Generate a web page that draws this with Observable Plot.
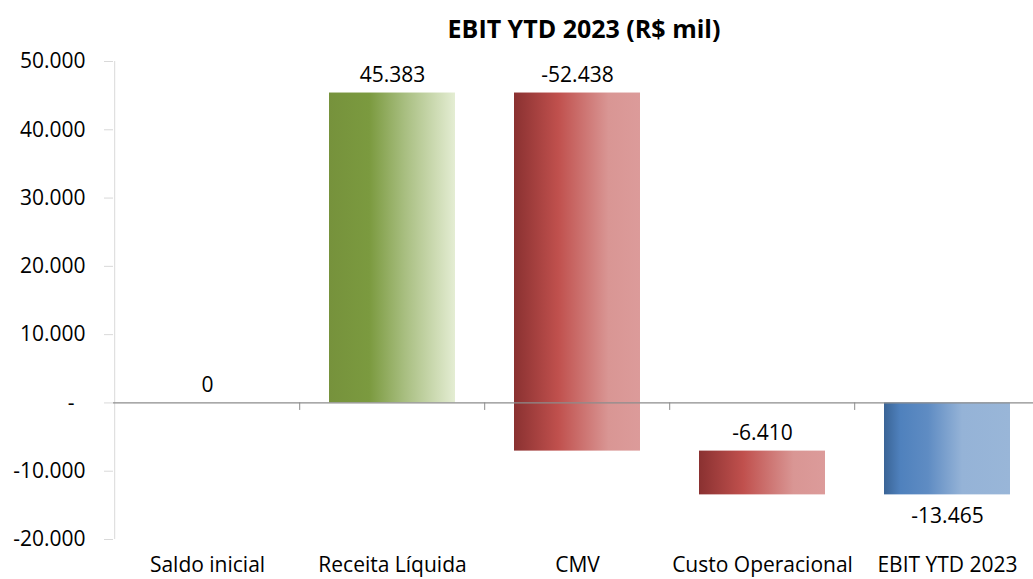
<!DOCTYPE html>
<html><head><meta charset="utf-8">
<script src="https://cdn.jsdelivr.net/npm/d3@7"></script>
<script src="https://cdn.jsdelivr.net/npm/@observablehq/plot@0.6"></script>
<style>
body{margin:0;background:#fff;font-family:"Open Sans",sans-serif;}
#wrap{width:1033px;height:579px;position:relative;overflow:hidden;background:#fff}
#title{position:absolute;top:5px;left:0;width:1168px;height:46px;text-align:center;font-weight:bold;font-size:25px;line-height:46px;color:#000}
#chart{position:absolute;top:50px;left:0}
</style></head><body>
<div id="wrap"><div id="title">EBIT YTD 2023 (R$ mil)</div><div id="chart"></div></div>
<script>
const categories = ["Saldo inicial", "Receita Líquida", "CMV", "Custo Operacional", "EBIT YTD 2023"];
const values = [0, 45383, -52438, -6410, -13465];
const kinds = ["start", "increase", "decrease", "decrease", "total"];
const yTicks = [-20000, -10000, 0, 10000, 20000, 30000, 40000, 50000];

const fmtNum = d3.formatLocale({decimal: ",", thousands: ".", grouping: [3], currency: ["R$", ""], minus: "-"}).format(",d");
const yFmt = d => d === 0 ? "-\u00a0\u00a0" : fmtNum(d);

let run = 0;
const rows = categories.map((c, i) => {
  let y1, y2;
  if (kinds[i] === "total") { y1 = 0; y2 = values[i]; }
  else { y1 = run; y2 = run + values[i]; run = y2; }
  const below = kinds[i] === "total" && values[i] < 0;
  return {cat: c, kind: kinds[i], value: values[i], y1, y2,
          ly: below ? Math.min(y1, y2) : Math.max(y1, y2), below};
});

const xRange = [113, 1041];
const step = (xRange[1] - xRange[0]) / categories.length;

const chart = Plot.plot({
  width: 1033,
  height: 529,
  marginLeft: 113,
  marginRight: 0,
  marginTop: 0,
  marginBottom: 40,
  style: {fontFamily: "'Open Sans', sans-serif", fontSize: "21px", color: "#000", background: "#fff", overflow: "visible"},
  x: {domain: categories, range: xRange, paddingInner: 0.32, paddingOuter: 0.16, label: null},
  y: {domain: [-20000, 50000], range: [489, 11], label: null},
  marks: [
    Plot.ruleX([categories[0]], {y1: -20000, y2: 50000, dx: -step / 2, stroke: "#d9d9d9"}),
    Plot.axisY(yTicks, {tickSize: 9, tickPadding: 19, tickFormat: yFmt, stroke: "#d9d9d9", fill: "#000", fontSize: 21, label: null}),
    Plot.barY(rows.filter(d => d.kind === "increase"), {x: "cat", y1: "y1", y2: "y2", fill: "url(#gGreen)"}),
    Plot.barY(rows.filter(d => d.kind === "decrease"), {x: "cat", y1: "y1", y2: "y2", fill: "url(#gRed)"}),
    Plot.barY(rows.filter(d => d.kind === "total"), {x: "cat", y1: "y1", y2: "y2", fill: "url(#gBlue)"}),
    Plot.ruleY([0], {stroke: "#8c8c8c", strokeWidth: 1.2}),
    Plot.ruleX(categories.slice(1), {y1: 0, y2: -1100, dx: -step / 2, stroke: "#8c8c8c"}),
    Plot.axisX({tickSize: 0, tickPadding: 18, fontSize: 21, fill: "#000", label: null}),
    Plot.text(rows.filter(d => !d.below), {x: "cat", y: "ly", text: d => fmtNum(d.value), dy: -18, fontSize: 21, fill: "#000"}),
    Plot.text(rows.filter(d => d.below), {x: "cat", y: "ly", text: d => fmtNum(d.value), dy: 21, fontSize: 21, fill: "#000"})
  ]
});

const ns = "http://www.w3.org/2000/svg";
const defs = document.createElementNS(ns, "defs");
function grad(id, stops) {
  const g = document.createElementNS(ns, "linearGradient");
  g.setAttribute("id", id);
  g.setAttribute("x1", "0"); g.setAttribute("x2", "1"); g.setAttribute("y1", "0"); g.setAttribute("y2", "0");
  stops.forEach(([o, c]) => {
    const s = document.createElementNS(ns, "stop");
    s.setAttribute("offset", o); s.setAttribute("stop-color", c);
    g.appendChild(s);
  });
  defs.appendChild(g);
}
grad("gGreen", [[0, "#76923C"], [0.32, "#7B9A3F"], [0.6, "#A8BE80"], [1, "#E4EDD3"]]);
grad("gRed", [[0, "#8A3131"], [0.35, "#C0504D"], [0.75, "#D99694"], [1, "#DC9B9A"]]);
grad("gBlue", [[0, "#3A6496"], [0.13, "#4F81BD"], [0.35, "#5F8CC3"], [0.62, "#95B3D7"], [1, "#99B6D8"]]);
chart.insertBefore(defs, chart.firstChild);
document.getElementById("chart").appendChild(chart);
</script>
</body></html>
